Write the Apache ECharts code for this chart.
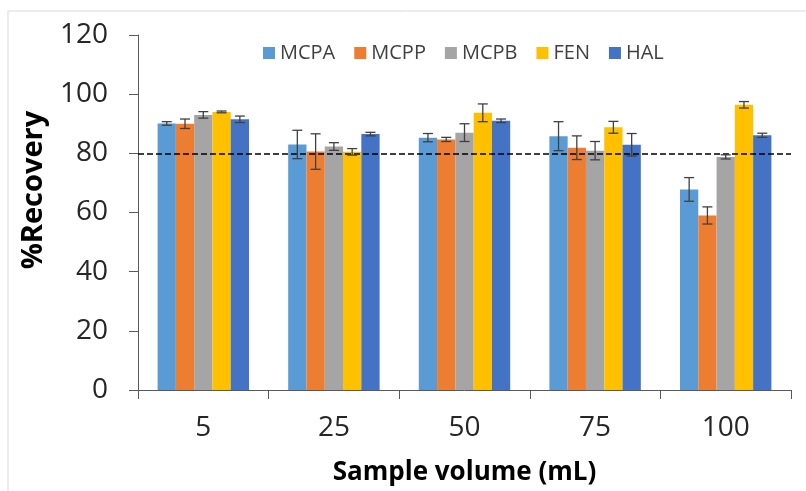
<!DOCTYPE html>
<html>
<head>
<meta charset="utf-8">
<script src="https://cdn.jsdelivr.net/npm/echarts@6/dist/echarts.min.js"></script>
<style>
html,body{margin:0;padding:0;background:#fff;}
#chart{width:806px;height:491px;}
</style>
</head>
<body>
<div id="chart"></div>
<script>
const categories = ['5', '25', '50', '75', '100'];
const seriesNames = ['MCPA', 'MCPP', 'MCPB', 'FEN', 'HAL'];
const MCPA = [90.1, 83.0, 85.3, 85.8, 67.8];
const MCPP = [90.0, 80.6, 84.7, 81.9, 59.0];
const MCPB = [93.0, 82.3, 87.0, 80.9, 78.8];
const FEN  = [94.0, 80.5, 93.7, 88.8, 96.4];
const HAL  = [91.5, 86.5, 91.0, 82.9, 86.1];
const MCPA_err = [0.6, 4.8, 1.4, 4.9, 4.0];
const MCPP_err = [1.6, 6.0, 0.7, 4.0, 2.9];
const MCPB_err = [1.1, 1.3, 3.0, 3.1, 0.7];
const FEN_err  = [0.3, 1.1, 3.0, 2.0, 1.1];
const HAL_err  = [1.1, 0.6, 0.6, 3.8, 0.7];
const threshold = 80;
const yTicks = [0, 20, 40, 60, 80, 100, 120];

const values = [MCPA, MCPP, MCPB, FEN, HAL];
const errors = [MCPA_err, MCPP_err, MCPB_err, FEN_err, HAL_err];
const colors = ['#5B9BD5', '#ED7D31', '#A5A5A5', '#FFC000', '#4472C4'];
const FONT = '"Open Sans", sans-serif';
const CAT_GAP = 0.30;

const errData = [];
values.forEach((arr, s) => arr.forEach((v, c) => errData.push([c, v, errors[s][c], s])));

const series = values.map((arr, s) => {
  const o = {
    name: seriesNames[s], type: 'bar', data: arr,
    barGap: '0%', barCategoryGap: (CAT_GAP * 100) + '%',
    itemStyle: { color: colors[s] }
  };
  if (s === 0) {
    o.markLine = {
      silent: true, symbol: ['none', 'none'],
      label: { show: false },
      lineStyle: { color: '#000', type: [6, 3], width: 1.5 },
      data: [{ yAxis: threshold }]
    };
  }
  return o;
});

series.push({
  type: 'custom', name: 'err', z: 10,
  data: errData,
  encode: { x: 0, y: 1 },
  renderItem: function (params, api) {
    const c = api.value(0), v = api.value(1), e = api.value(2), s = api.value(3);
    const band = api.size([1, 0])[0];
    const bw = band * (1 - CAT_GAP) / values.length;
    const cx = api.coord([c, v])[0] - band * (1 - CAT_GAP) / 2 + bw * (s + 0.5);
    const yt = api.coord([c, v + e])[1];
    const yb = api.coord([c, v - e])[1];
    const hw = 5;
    const st = { stroke: '#404040', lineWidth: 1.3 };
    return {
      type: 'group',
      children: [
        { type: 'line', shape: { x1: cx, y1: yt, x2: cx, y2: yb }, style: st },
        { type: 'line', shape: { x1: cx - hw, y1: yt, x2: cx + hw, y2: yt }, style: st },
        { type: 'line', shape: { x1: cx - hw, y1: yb, x2: cx + hw, y2: yb }, style: st }
      ]
    };
  }
});

const chart = echarts.init(document.getElementById('chart'), null, { renderer: 'canvas' });
chart.setOption({
  animation: false,
  backgroundColor: '#fff',
  textStyle: { fontFamily: FONT },
  graphic: [
    { type: 'rect', shape: { x: 8, y: 11, width: 900, height: 600 }, style: { fill: 'none', stroke: '#d9d9d9', lineWidth: 1 }, z: -1 },
    { type: 'text', x: 34, y: 190, rotation: Math.PI / 2,
      style: { text: '%Recovery', font: 'bold 29px ' + FONT, fill: '#000', textAlign: 'center', textVerticalAlign: 'middle' } }
  ],
  legend: {
    data: seriesNames, left: 258, top: 38,
    icon: 'rect', itemWidth: 12, itemHeight: 12, itemGap: 19,
    textStyle: { fontSize: 20, color: '#404040', fontFamily: FONT }
  },
  grid: { left: 138, right: 15, top: 35, bottom: 98 },
  xAxis: {
    type: 'category', data: categories,
    name: 'Sample volume (mL)', nameLocation: 'middle', nameGap: 70,
    nameTextStyle: { fontSize: 26, fontWeight: 'bold', color: '#000', fontFamily: FONT },
    axisLine: { lineStyle: { color: '#595959', width: 1 } },
    axisTick: { show: true, length: 9, lineStyle: { color: '#595959' } },
    axisLabel: { fontSize: 28, color: '#262626', margin: 24, fontFamily: FONT }
  },
  yAxis: {
    type: 'value', min: 0, max: 120, interval: 20,
    axisLine: { show: true, lineStyle: { color: '#595959', width: 1 } },
    axisTick: { show: true, length: 9, lineStyle: { color: '#595959' } },
    splitLine: { show: false },
    axisLabel: { fontSize: 28, color: '#262626', margin: 30, fontFamily: FONT,
      formatter: v => yTicks.includes(v) ? String(v) : '' }
  },
  series: series
});
</script>
</body>
</html>
